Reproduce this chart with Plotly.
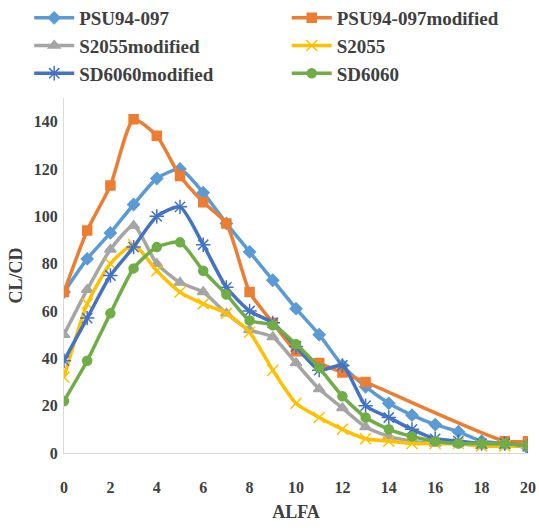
import plotly.graph_objects as go

alfa = list(range(0, 21))
psu94 = [68, 82, 93, 105, 116, 120, 110, 97, 85, 73, 61, 50, 37, 28, 21, 16, 12, 9, 5, 4, 2]
psu94_mod = [68, 94, 113, 141, 134, 117, 106, 97, 68, 55, 43, 38, 34, 30, None, None, None, None, None, 5, 5]
s2055_mod = [50, 69, 86, 96, 80, 72, 68, 59, 52, 49, 38, 27, 19, 11, 7, 5, 4, 4, 3, 3, 3]
s2055 = [32, 63, 80, 88, 77, 68, 63, 59, 51, 35, 21, 15, 10, 6, 5, 4, 4, 4, 3, 3, 3]
sd6060_mod = [39, 57, 75, 87, 100, 104, 88, 70, 60, 55, 45, 35, 37, 20, 15, 10, 6, 5, 4, 4, 3]
sd6060 = [22, 39, 59, 78, 87, 89, 77, 67, 56, 54, 46, 36, 24, 15, 10, 7, 5, 4, 4, 4, 3]

series = [
    ("PSU94-097", psu94, "#5B9BD5", "diamond", 9, "legend"),
    ("PSU94-097modified", psu94_mod, "#ED7D31", "square", 9, "legend2"),
    ("S2055modified", s2055_mod, "#A5A5A5", "triangle-up", 10, "legend"),
    ("S2055", s2055, "#FFC000", "x-thin-open", 11, "legend2"),
    ("SD6060modified", sd6060_mod, "#4472C4", "asterisk-open", 12, "legend"),
    ("SD6060", sd6060, "#70AD47", "circle", 9, "legend2"),
]

fig = go.Figure()
for name, vals, col, sym, sz, lg in series:
    fig.add_trace(go.Scatter(
        x=alfa, y=vals, name=name, mode="lines+markers", connectgaps=True,
        line=dict(color=col, width=3.5, shape="spline", smoothing=0.6),
        marker=dict(symbol=sym, size=sz, color=col, line=dict(color=col, width=1.5)),
        legend=lg,
    ))

font = "Liberation Serif"
legend_common = dict(
    orientation="v", yanchor="top", xanchor="left",
    font=dict(family=font, size=19, color="#404040", weight="bold"),
    bgcolor="rgba(0,0,0,0)", itemwidth=40, tracegroupgap=0,
)
fig.update_layout(
    width=539, height=528,
    margin=dict(l=64, r=11, t=98, b=75, autoexpand=False),
    paper_bgcolor="white", plot_bgcolor="white",
    legend=dict(x=-0.075, y=1.279, **legend_common),
    legend2=dict(x=0.48, y=1.279, **legend_common),
    xaxis=dict(
        range=[0, 20], tickvals=list(range(0, 21, 2)),
        showgrid=False, zeroline=False, showline=True, linecolor="#D9D9D9", linewidth=1,
        ticks="", ticklabelstandoff=20,
        tickfont=dict(family=font, size=16, color="#404040", weight="bold"),
        title=dict(text="ALFA", font=dict(family=font, size=18, color="#404040", weight="bold"), standoff=10),
        automargin=False,
    ),
    yaxis=dict(
        range=[0, 150], tickvals=list(range(0, 141, 20)),
        showgrid=False, zeroline=False, showline=True, linecolor="#D9D9D9", linewidth=1,
        ticks="", ticklabelstandoff=2,
        tickfont=dict(family=font, size=16, color="#404040", weight="bold"),
        title=dict(text="CL/CD", font=dict(family=font, size=18, color="#404040", weight="bold"), standoff=6),
        automargin=False,
    ),
)
fig.write_html("out.html", config={"displayModeBar": False},
               post_script="document.body.style.margin='0';document.body.style.overflow='hidden';")
